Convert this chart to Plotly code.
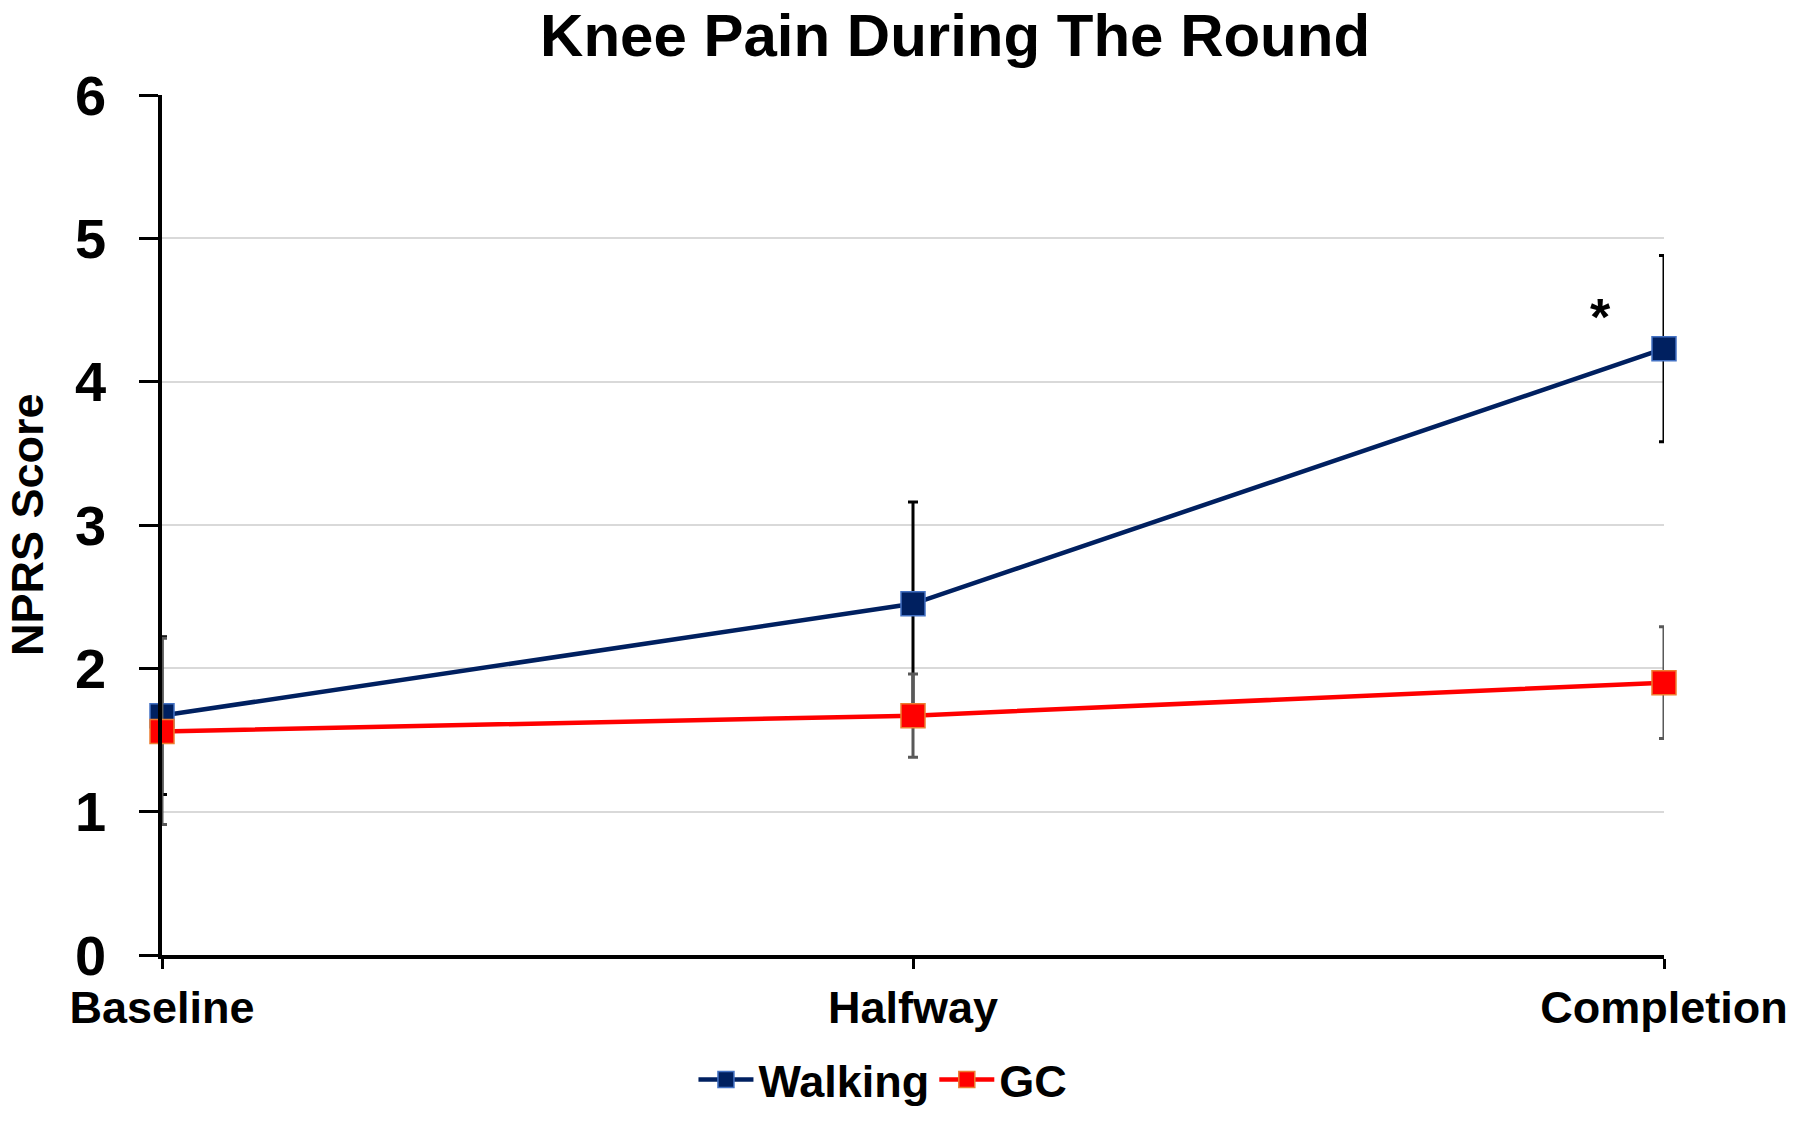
import plotly.graph_objects as go

categories = ["Baseline", "Halfway", "Completion"]
walking_mean = [1.67, 2.45, 4.23]
walking_err = [0.55, 0.71, 0.65]
gc_mean = [1.56, 1.67, 1.90]
gc_err = [0.65, 0.29, 0.39]
y_ticks = [0, 1, 2, 3, 4, 5, 6]
sig_label = "*"
sig_y = 4.45

FONT = "Liberation Sans, Arial, sans-serif"

fig = go.Figure()
fig.add_trace(go.Scatter(
    x=categories, y=walking_mean, name="Walking", mode="lines+markers",
    line=dict(color="#002060", width=4.5),
    marker=dict(symbol="square", size=24, color="#002060",
                line=dict(color="#4472C4", width=1.5)),
    error_y=dict(type="data", array=walking_err, visible=True,
                 color="#000000", thickness=3, width=5),
    cliponaxis=False,
))
fig.add_trace(go.Scatter(
    x=categories, y=gc_mean, name="GC", mode="lines+markers",
    line=dict(color="#FF0000", width=4.5),
    marker=dict(symbol="square", size=24, color="#FF0000",
                line=dict(color="#ED7D31", width=1.5)),
    error_y=dict(type="data", array=gc_err, visible=True,
                 color="#595959", thickness=3, width=5),
    cliponaxis=False,
))

fig.add_annotation(
    x="Completion", y=sig_y, text=sig_label, showarrow=False,
    xshift=-64, font=dict(family=FONT, size=52, color="black", weight="bold"),
)
fig.add_annotation(
    xref="paper", yref="paper", x=0, y=0.5, xshift=-135, xanchor="center", yanchor="middle",
    text="NPRS Score", textangle=-90, showarrow=False,
    font=dict(family=FONT, size=45, color="black", weight="bold"),
)

fig.update_layout(
    width=1800, height=1128,
    margin=dict(l=162, r=120, t=95, b=151),
    paper_bgcolor="white", plot_bgcolor="white",
    title=dict(text="Knee Pain During The Round", x=0.5306, xanchor="center",
               y=0.969, yanchor="middle", yref="container",
               font=dict(family=FONT, size=60, color="black", weight="bold")),
    legend=dict(orientation="h", x=0.48, xanchor="center", y=-0.145,
                yanchor="middle", font=dict(family=FONT, size=45, color="black", weight="bold"),
                itemwidth=55, tracegroupgap=0),
    showlegend=True,
)
fig.update_xaxes(
    type="category", range=[0, 2], showgrid=False, zeroline=False,
    showline=True, linecolor="black", linewidth=3.5,
    ticks="outside", ticklen=10, tickwidth=3, tickcolor="black",
    tickfont=dict(family=FONT, size=45, color="black", weight="bold"),
)
fig.update_yaxes(
    range=[0, 6], tickvals=y_ticks, showgrid=True, gridcolor="#D9D9D9", gridwidth=1.5,
    zeroline=False, showline=True, linecolor="black", linewidth=3.5,
    ticks="outside", ticklen=19, tickwidth=3, tickcolor="black",
    ticklabelstandoff=22,
    tickfont=dict(family=FONT, size=56, color="black", weight="bold"),
)

fig.write_html(
    "out.html",
    config={"displayModeBar": False},
    post_script="document.body.style.margin='0';document.body.style.overflow='hidden';",
)
